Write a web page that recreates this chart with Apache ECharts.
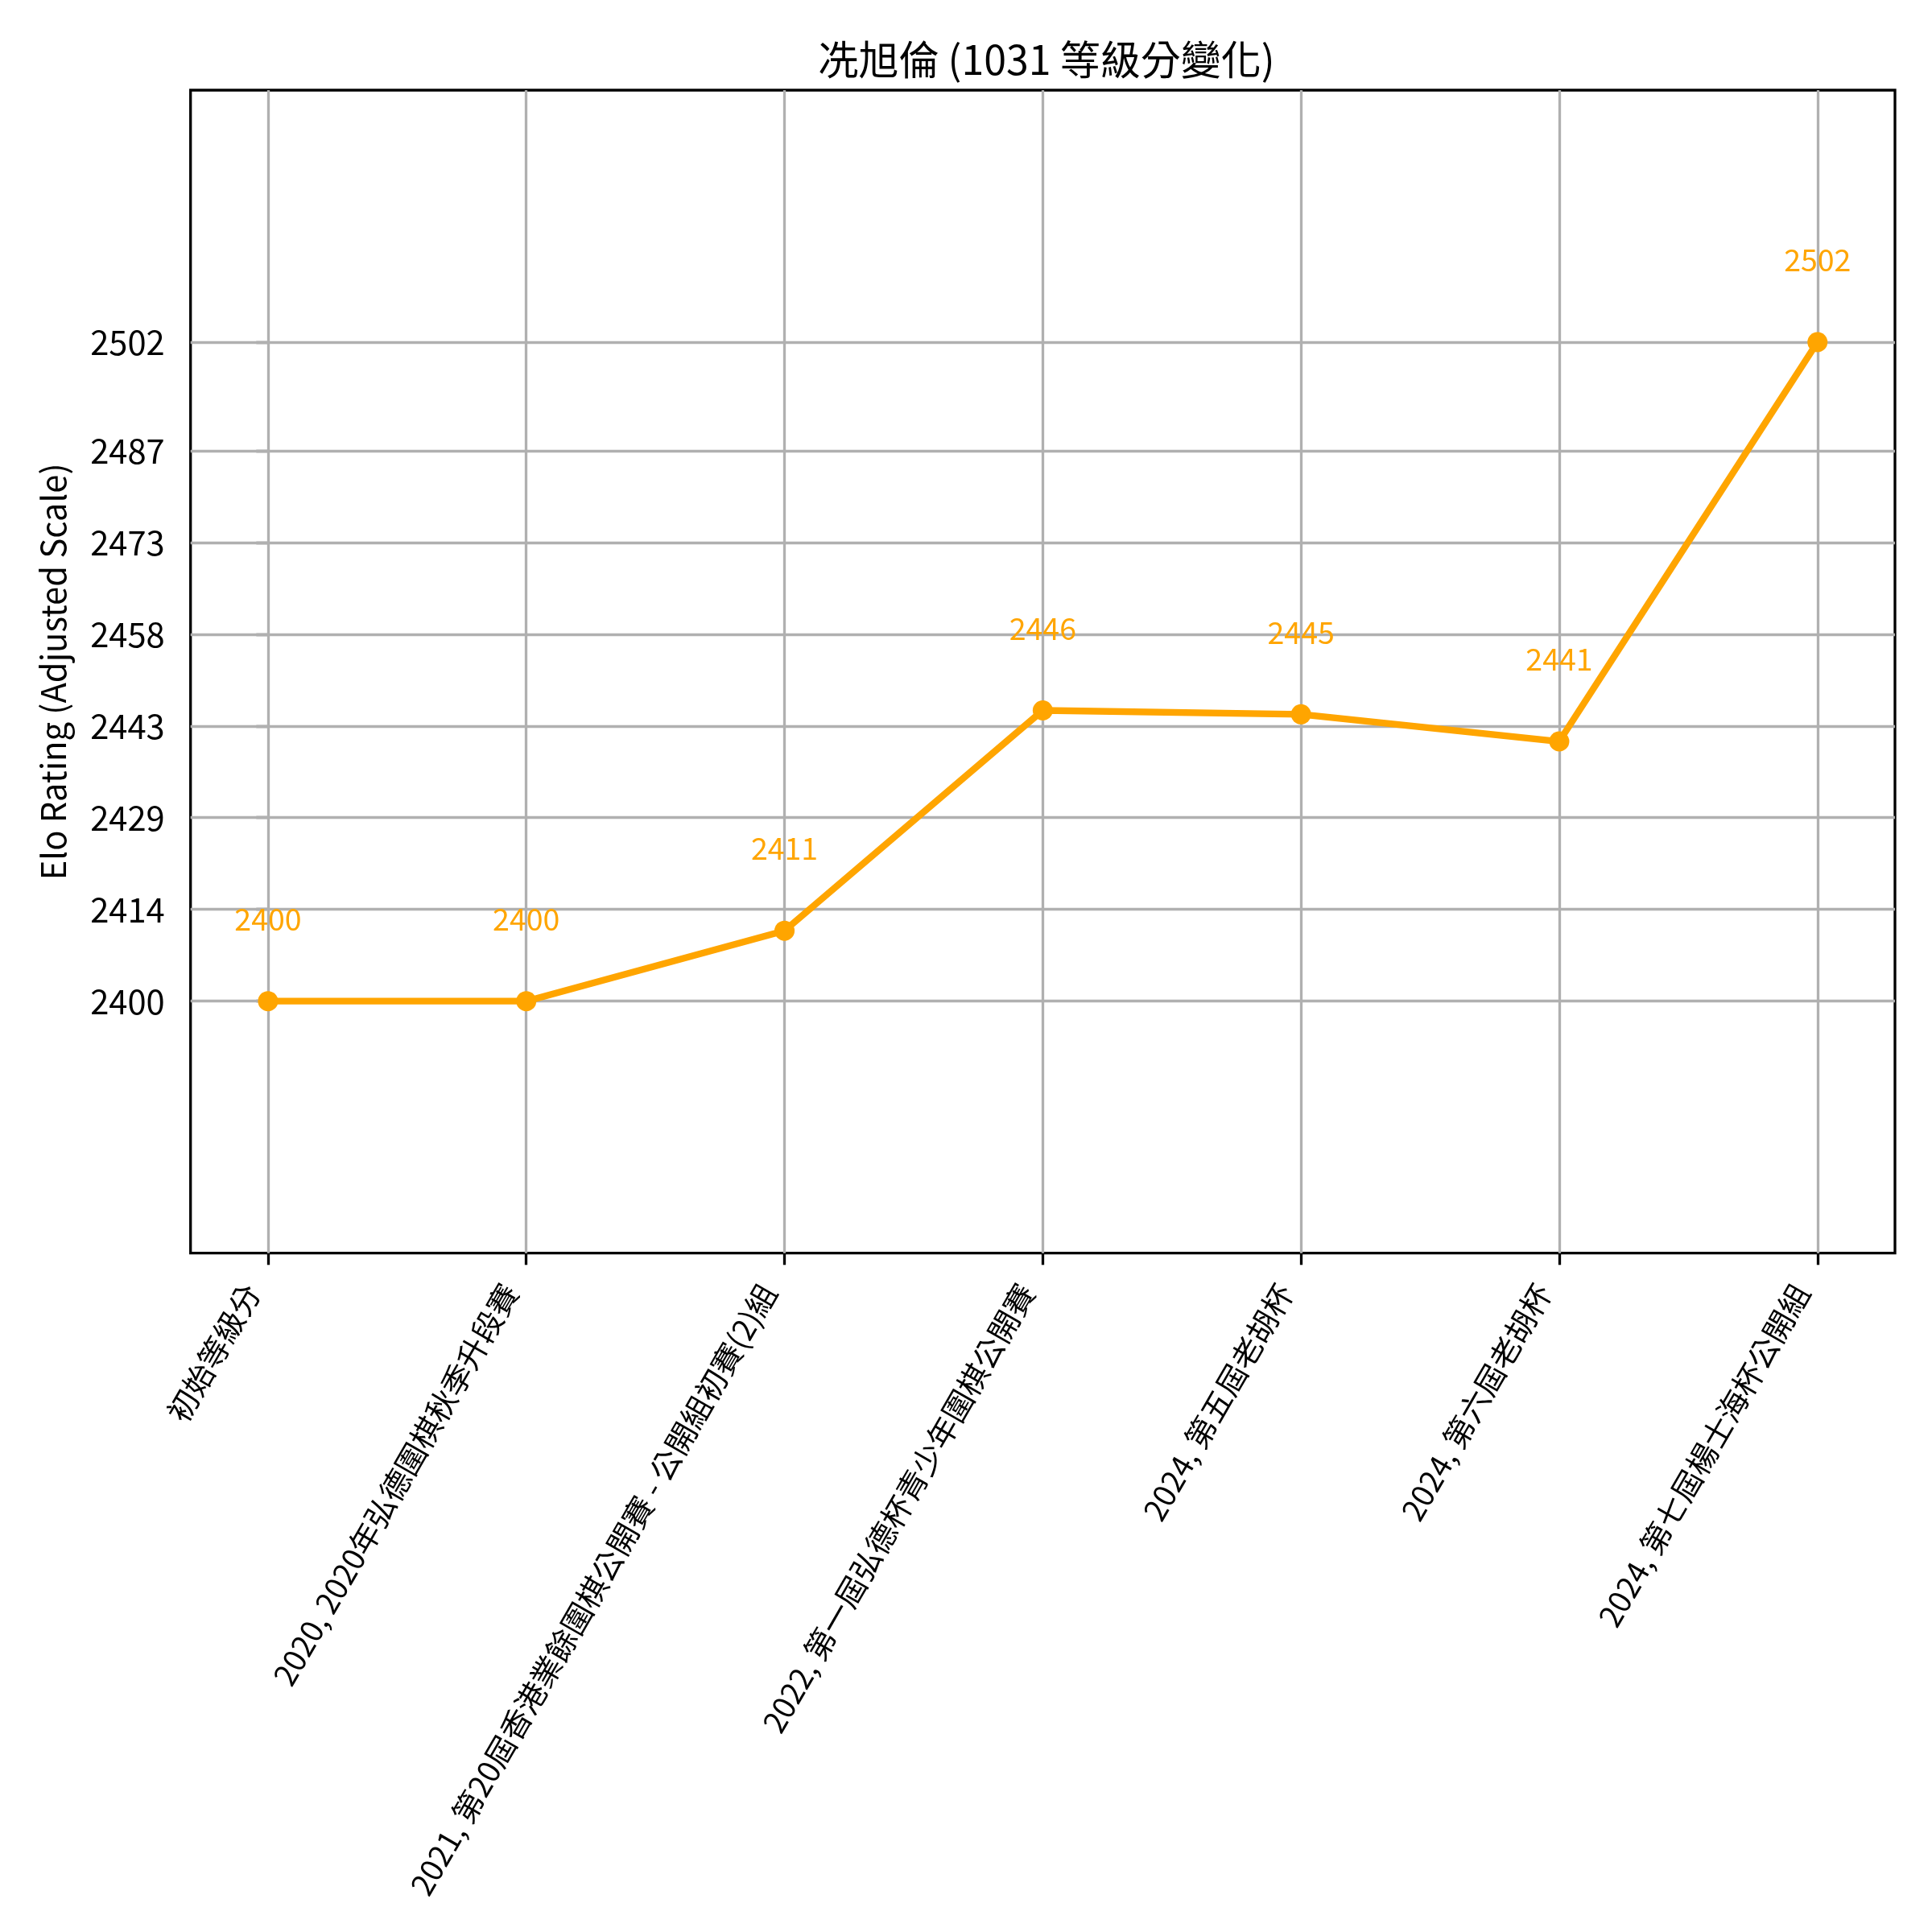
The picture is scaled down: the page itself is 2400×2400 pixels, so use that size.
<!DOCTYPE html>
<html>
<head>
<meta charset="utf-8">
<script src="https://cdn.jsdelivr.net/npm/echarts@6/dist/echarts.min.js"></script>
<style>
html,body{margin:0;padding:0;background:#fff;}
#chart{width:2400px;height:2400px;}
</style>
</head>
<body>
<div id="chart"></div>
<script>
// ---- data ----
const titleText = '冼旭倫 (1031 等級分變化)';
const yAxisName = 'Elo Rating (Adjusted Scale)';
const categories = [
  '初始等級分',
  '2020, 2020年弘德圍棋秋季升段賽',
  '2021, 第20屆香港業餘圍棋公開賽 - 公開組初賽(2)組',
  '2022, 第一屆弘德杯青少年圍棋公開賽',
  '2024, 第五屆老胡杯',
  '2024, 第六屆老胡杯',
  '2024, 第七屆楊士海杯公開組'
];
// ratings shown as point labels
const ratingLabels = [2400, 2400, 2411, 2446, 2445, 2441, 2502];
// plotted (adjusted-scale) positions
const adjustedValues = [2400, 2400, 2410.9, 2445.0, 2444.4, 2440.2, 2502];
// y ticks: positions on the adjusted scale and their printed labels
const yTickValues = [2400, 2414.2, 2428.4, 2442.6, 2456.8, 2471.0, 2485.2, 2502];
const yTickLabels = ['2400', '2414', '2429', '2443', '2458', '2473', '2487', '2502'];
const yMin = 2361, yMax = 2541;

// ---- chart ----
const FONT = '"Noto Sans CJK TC", "Noto Sans", sans-serif';
const ORANGE = '#FFA500';
const GRID = '#b0b0b0';
const xIdx = categories.map((_, i) => i);
const seriesData = adjustedValues.map((v, i) => [i, v]);

const chart = echarts.init(document.getElementById('chart'), null, {renderer: 'canvas'});
chart.setOption({
  animation: false,
  backgroundColor: '#ffffff',
  textStyle: {fontFamily: FONT},
  title: {
    text: titleText,
    left: 1295, top: 38, textAlign: 'center',
    textStyle: {fontFamily: FONT, fontSize: 50, fontWeight: 'normal', color: '#000', lineHeight: 62}
  },
  grid: {
    left: 236.7, right: 46, top: 112, bottom: 843.3,
    containLabel: false, outerBoundsMode: 'none',
    show: true, borderColor: '#000', borderWidth: 3.3, backgroundColor: 'transparent'
  },
  xAxis: {
    type: 'value', min: -0.3, max: 6.3,
    axisLine: {show: false},
    splitLine: {show: false},
    axisTick: {show: true, customValues: xIdx, length: 14.6, lineStyle: {color: '#000', width: 3.3}},
    axisLabel: {
      customValues: xIdx,
      rotate: 60,
      margin: 7,
      padding: [0, 40, 0, 0],
      hideOverlap: false,
      fontFamily: FONT, fontSize: 38, color: '#000',
      formatter: v => categories[Math.round(v)] || ''
    }
  },
  yAxis: {
    type: 'value', min: yMin, max: yMax,
    name: yAxisName, nameLocation: 'middle', nameGap: 150,
    nameTextStyle: {fontFamily: FONT, fontSize: 41.7, color: '#000'},
    axisLine: {show: false},
    splitLine: {show: false},
    axisTick: {show: true, customValues: yTickValues, length: 14.6, lineStyle: {color: '#000', width: 3.3}},
    axisLabel: {
      customValues: yTickValues,
      margin: 32,
      fontFamily: FONT, fontSize: 41.7, color: '#000',
      formatter: v => {
        const i = yTickValues.findIndex(t => Math.abs(t - v) < 1e-6);
        return i >= 0 ? yTickLabels[i] : '';
      }
    }
  },
  series: [
    {
      type: 'line', data: [], z: 1, silent: true,
      markLine: {
        silent: true, symbol: 'none', z: 1, animation: false,
        label: {show: false},
        lineStyle: {color: GRID, width: 3.3, type: 'solid'},
        emphasis: {disabled: true},
        data: xIdx.map(i => ({xAxis: i})).concat(yTickValues.map(v => ({yAxis: v})))
      }
    },
    {
      type: 'line', data: seriesData, z: 3,
      symbol: 'circle', symbolSize: 25,
      lineStyle: {color: ORANGE, width: 8.3},
      itemStyle: {color: ORANGE},
      label: {
        show: true, position: 'top', distance: 67,
        fontFamily: FONT, fontSize: 37.5, lineHeight: 45, color: ORANGE,
        formatter: p => String(ratingLabels[p.dataIndex])
      }
    }
  ]
});
</script>
</body>
</html>
